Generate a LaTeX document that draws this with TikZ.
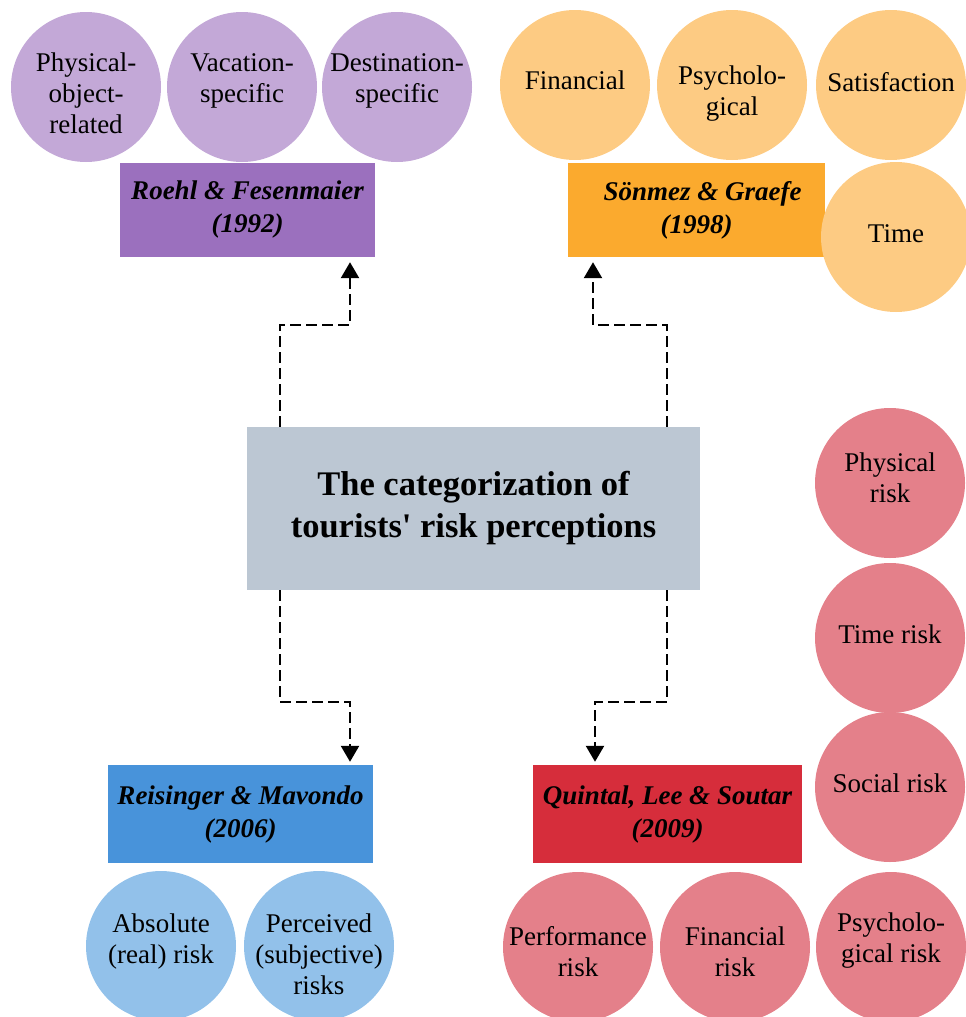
\documentclass[tikz,border=0pt]{standalone}
\usepackage{fontspec}
\setmainfont{Liberation Serif}
\usetikzlibrary{arrows.meta}

\definecolor{purpleBox}{RGB}{155,112,190}
\definecolor{purpleCirc}{RGB}{195,168,215}
\definecolor{orangeBox}{RGB}{251,170,46}
\definecolor{orangeCirc}{RGB}{253,203,131}
\definecolor{centerBox}{RGB}{188,199,211}
\definecolor{blueBox}{RGB}{72,147,218}
\definecolor{blueCirc}{RGB}{146,193,234}
\definecolor{redBox}{RGB}{214,45,59}
\definecolor{redCirc}{RGB}{228,128,138}

\tikzset{
  authorbox/.style={rectangle, inner sep=0pt, align=center,
    font=\fontsize{27}{33}\selectfont\bfseries\itshape},
  bubble/.style={circle, inner sep=0pt, minimum size=150pt},
  bubbletext/.style={inner sep=0pt, align=center,
    font=\fontsize{27}{31}\selectfont},
  link/.style={draw=black, line width=2.4pt, dash pattern=on 11pt off 5pt,
    -{Triangle[width=18pt,length=16pt]}}
}

\begin{document}
\begin{tikzpicture}[x=1pt,y=-1pt]
\useasboundingbox (0,0) rectangle (966,1017);

% ---- central topic ----
\node[rectangle, fill=centerBox, minimum width=453pt, minimum height=163pt,
  align=center, font=\fontsize{34.5}{42}\selectfont\bfseries]
  (cat) at (473.5,508.5) {The categorization of\\tourists\textquotesingle\ risk perceptions};

% ---- Roehl & Fesenmaier (1992) ----
\node[authorbox, fill=purpleBox, minimum width=255pt, minimum height=94pt]
  (rf) at (247.5,210) {Roehl \& Fesenmaier\\(1992)};
\node[bubble, fill=purpleCirc] (p1) at (86,87) {};
\node[bubble, fill=purpleCirc] (p2) at (242,87) {};
\node[bubble, fill=purpleCirc] (p3) at (397,87) {};
\node[bubbletext] (p1t) at ([yshift=-6pt]p1.center) {Physical-\\object-\\related};
\node[bubbletext] (p2t) at ([yshift=6pt]p2.center) {Vacation-\\specific};
\node[bubbletext] (p3t) at ([yshift=6pt]p3.center) {Destination-\\specific};

% ---- Sönmez & Graefe (1998) ----
\node[authorbox, fill=orangeBox, minimum width=257pt, minimum height=94pt]
  (sg) at (696.5,210) {\hspace*{12pt}Sönmez \& Graefe\\(1998)};
\node[bubble, fill=orangeCirc] (o1) at (575,85) {};
\node[bubble, fill=orangeCirc] (o2) at (732,85) {};
\node[bubble, fill=orangeCirc] (o3) at (891,85) {};
\node[bubble, fill=orangeCirc] (o4) at (896,237) {};
\node[bubbletext] (o1t) at ([yshift=5pt]o1.center) {Financial};
\node[bubbletext] (o2t) at ([yshift=-9pt]o2.center) {Psycholo-\\gical};
\node[bubbletext] (o3t) at ([yshift=3pt]o3.center) {Satisfaction};
\node[bubbletext] (o4t) at ([yshift=3pt]o4.center) {Time};

% ---- Reisinger & Mavondo (2006) ----
\node[authorbox, fill=blueBox, minimum width=265pt, minimum height=98pt]
  (rm) at (240.5,814) {Reisinger \& Mavondo\\(2006)};
\node[bubble, fill=blueCirc] (b1) at (161,946) {};
\node[bubble, fill=blueCirc] (b2) at (319,946) {};
\node[bubbletext] (b1t) at ([yshift=5pt]b1.center) {Absolute\\(real) risk};
\node[bubbletext] (b2t) at ([yshift=-8pt]b2.center) {Perceived\\(subjective)\\risks};

% ---- Quintal, Lee & Soutar (2009) ----
\node[authorbox, fill=redBox, minimum width=269pt, minimum height=98pt]
  (qls) at (667.5,814) {Quintal, Lee \& Soutar\\(2009)};
\node[bubble, fill=redCirc] (r1) at (890,483) {};
\node[bubble, fill=redCirc] (r2) at (890,638) {};
\node[bubble, fill=redCirc] (r3) at (890,787) {};
\node[bubble, fill=redCirc] (r4) at (578,947) {};
\node[bubble, fill=redCirc] (r5) at (735,947) {};
\node[bubble, fill=redCirc] (r6) at (891,947) {};
\node[bubbletext] (r1t) at ([yshift=5pt]r1.center) {Physical\\risk};
\node[bubbletext] (r2t) at ([yshift=4pt]r2.center) {Time risk};
\node[bubbletext] (r3t) at ([yshift=4pt]r3.center) {Social risk};
\node[bubbletext] (r4t) at ([yshift=-5pt]r4.center) {Performance\\risk};
\node[bubbletext] (r5t) at ([yshift=-5pt]r5.center) {Financial\\risk};
\node[bubbletext] (r6t) at ([yshift=6pt]r6.center) {Psycholo-\\gical risk};

% ---- elbow connectors ----
\coordinate (ul) at (280,325);
\coordinate (ur) at (667,325);
\coordinate (dl) at (280,702);
\coordinate (dr) at (667,702);
\coordinate (ulx) at (350,325);
\coordinate (urx) at (593,325);
\coordinate (dlx) at (350,702);
\coordinate (drx) at (595,702);

\draw[link, shorten >=5pt] (cat.north -| ul) -- (ul) -- (ulx) -- (rf.south -| ulx);
\draw[link, shorten >=5pt] (cat.north -| ur) -- (ur) -- (urx) -- (sg.south -| urx);
\draw[link, shorten >=3pt] (cat.south -| dl) -- (dl) -- (dlx) -- (rm.north -| dlx);
\draw[link, shorten >=3pt] (cat.south -| dr) -- (dr) -- (drx) -- (qls.north -| drx);
\end{tikzpicture}
\end{document}
